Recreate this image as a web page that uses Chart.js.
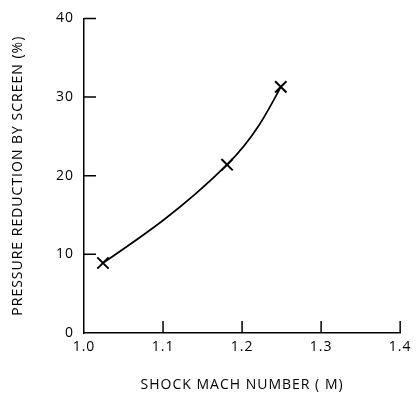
<!DOCTYPE html>
<html>
<head>
<meta charset="utf-8">
<script src="https://cdn.jsdelivr.net/npm/chart.js@4"></script>
<style>
  html, body { margin: 0; padding: 0; background: #fff; }
  #wrap { width: 416px; height: 397px; }
</style>
</head>
<body>
<div id="wrap"><canvas id="shock-chart" width="416" height="397"></canvas></div>
<script>
// Data
const machNumbers = [1.024, 1.181, 1.249];
const pressureReduction = [8.9, 21.4, 31.3];
const xTicks = [1.0, 1.1, 1.2, 1.3, 1.4];
const yTicks = [0, 10, 20, 30, 40];

const FONT = 'Open Sans';

// wide letter spacing like the original lettering
const spacing = {
    id: 'spacing',
    beforeInit(chart) { chart.ctx.letterSpacing = '1px'; },
    beforeDraw(chart) { chart.ctx.letterSpacing = '1px'; }
};

// relax the end control points (natural end condition) so the
// hand-drawn curve stays convex instead of kinking at the ends
const naturalEnds = {
    id: 'naturalEnds',
    beforeDatasetsDraw(chart) {
        const pts = chart.getDatasetMeta(0).data;
        const n = pts.length;
        if (n < 3) return;
        const a = pts[0], b = pts[1];
        a.cp2x = (a.x + b.cp1x) / 2;
        a.cp2y = (a.y + b.cp1y) / 2;
        const z = pts[n - 1], y = pts[n - 2];
        z.cp1x = (z.x + y.cp2x) / 2;
        z.cp1y = (z.y + y.cp2y) / 2;
    }
};

// Inward tick marks, placed through the chart's own scales
const inwardTicks = {
    id: 'inwardTicks',
    afterDraw(chart) {
        const ctx = chart.ctx;
        const xs = chart.scales.x;
        const ys = chart.scales.y;
        const len = 12;
        ctx.save();
        ctx.strokeStyle = '#000';
        ctx.lineWidth = 1.5;
        ctx.beginPath();
        yTicks.forEach(v => {
            if (v === 0) return;
            const py = ys.getPixelForValue(v);
            ctx.moveTo(xs.left, py);
            ctx.lineTo(xs.left + len, py);
        });
        xTicks.forEach(v => {
            if (v === 1.0) return;
            const px = xs.getPixelForValue(v);
            ctx.moveTo(px, ys.bottom);
            ctx.lineTo(px, ys.bottom - len);
        });
        ctx.stroke();
        ctx.restore();
    }
};

const ctx = document.getElementById('shock-chart');
new Chart(ctx, {
    type: 'line',
    data: {
        datasets: [{
            data: machNumbers.map((m, i) => ({ x: m, y: pressureReduction[i] })),
            borderColor: '#000',
            borderWidth: 1.7,
            tension: 0.4,
            fill: false,
            pointStyle: 'crossRot',
            pointRadius: 8,
            pointBorderWidth: 2,
            pointBorderColor: '#000',
            pointBackgroundColor: '#000'
        }]
    },
    options: {
        responsive: false,
        animation: false,
        layout: { padding: { top: 14, right: 13, left: 0, bottom: 0 } },
        plugins: {
            legend: { display: false },
            tooltip: { enabled: false }
        },
        scales: {
            x: {
                type: 'linear',
                min: 1.0,
                max: 1.4,
                afterFit: s => { s.height = 64; },
                afterBuildTicks: s => { s.ticks = xTicks.map(v => ({ value: v })); },
                grid: { display: false, drawTicks: false },
                border: { display: true, color: '#000', width: 1.5 },
                ticks: {
                    color: '#000',
                    padding: 6,
                    font: { family: FONT, size: 14 },
                    callback: v => v.toFixed(1)
                },
                title: {
                    display: true,
                    text: 'SHOCK MACH NUMBER ( M)',
                    color: '#000',
                    font: { family: FONT, size: 14 },
                    padding: { top: 0, bottom: 4 }
                }
            },
            y: {
                min: 0,
                max: 40,
                afterFit: s => { s.width = 84; },
                afterBuildTicks: s => { s.ticks = yTicks.map(v => ({ value: v })); },
                grid: { display: false, drawTicks: false },
                border: { display: true, color: '#000', width: 1.5 },
                ticks: {
                    color: '#000',
                    padding: 10,
                    font: { family: FONT, size: 14 }
                },
                title: {
                    display: true,
                    text: 'PRESSURE REDUCTION BY SCREEN (%)',
                    color: '#000',
                    font: { family: FONT, size: 14 },
                    padding: { top: 10, bottom: 0 }
                }
            }
        }
    },
    plugins: [spacing, naturalEnds, inwardTicks]
});
</script>
</body>
</html>
